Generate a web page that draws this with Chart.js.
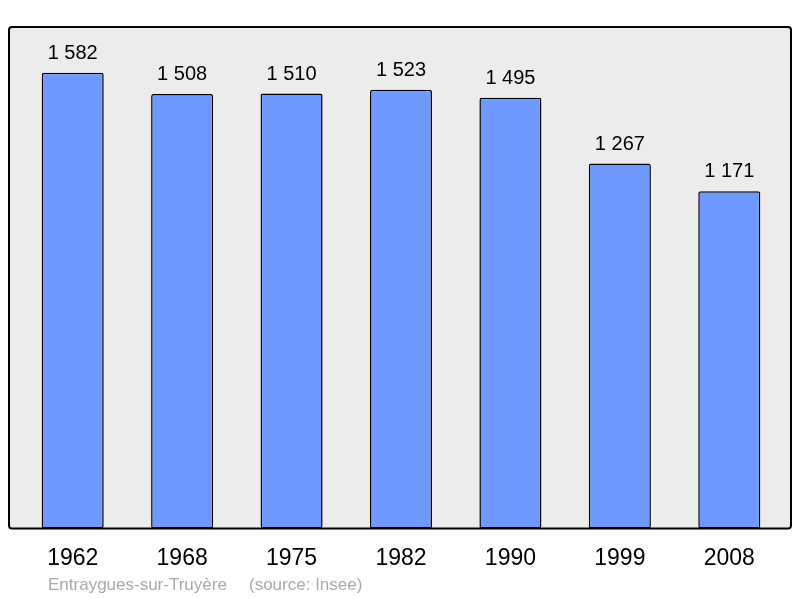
<!DOCTYPE html>
<html>
<head>
<meta charset="utf-8">
<script src="https://cdn.jsdelivr.net/npm/chart.js@4"></script>
<style>
  html, body { margin: 0; padding: 0; background: #fff; }
  #wrap { width: 800px; height: 598px; }
</style>
</head>
<body>
<div id="wrap"><canvas id="myChart"></canvas></div>
<script>
const years = ['1962', '1968', '1975', '1982', '1990', '1999', '2008'];
const population = [1582, 1508, 1510, 1523, 1495, 1267, 1171];
const townName = 'Entraygues-sur-Truyère';
const sourceText = '(source: Insee)';

const fontFamily = '"Liberation Sans", Arial, sans-serif';

function fmt(n) {
  return String(n).replace(/\B(?=(\d{3})+(?!\d))/g, ' ');
}

// grey box behind the bars, value labels and footer
const frame = {
  id: 'frame',
  beforeDraw(chart) {
    const { ctx, chartArea: a } = chart;
    const x = a.left - 9, y = a.top, w = a.right - a.left + 16, h = a.bottom - a.top;
    ctx.save();
    ctx.fillStyle = '#ececec';
    ctx.strokeStyle = '#000';
    ctx.lineWidth = 2;
    ctx.beginPath();
    ctx.roundRect(x, y, w, h, 3);
    ctx.fill();
    ctx.stroke();
    ctx.restore();
  },
  afterDatasetsDraw(chart) {
    const { ctx } = chart;
    const meta = chart.getDatasetMeta(0);
    ctx.save();
    ctx.fillStyle = '#000';
    ctx.font = '20px ' + fontFamily;
    ctx.textAlign = 'center';
    ctx.textBaseline = 'alphabetic';
    meta.data.forEach((bar, i) => {
      ctx.fillText(fmt(population[i]), bar.x, bar.y - 14);
    });
    ctx.fillStyle = '#aaaaaa';
    ctx.font = '17px ' + fontFamily;
    ctx.textAlign = 'left';
    ctx.fillText(townName, 48, 590);
    ctx.fillText(sourceText, 249, 590);
    ctx.restore();
  }
};

new Chart(document.getElementById('myChart'), {
  type: 'bar',
  data: {
    labels: years,
    datasets: [{
      data: population,
      backgroundColor: '#7099ff',
      borderColor: '#000',
      borderWidth: 1.5,
      borderSkipped: false,
      borderRadius: 2,
      barPercentage: 0.567,
      categoryPercentage: 1
    }]
  },
  options: {
    responsive: true,
    maintainAspectRatio: false,
    animation: false,
    layout: { padding: { left: 18, right: 16, top: 27, bottom: 18 } },
    plugins: { legend: { display: false }, tooltip: { enabled: false } },
    scales: {
      x: {
        grid: { display: false },
        border: { display: false },
        ticks: { color: '#000', font: { family: fontFamily, size: 23 }, padding: 8 }
      },
      y: {
        display: false,
        min: 0,
        max: 1741
      }
    }
  },
  plugins: [frame]
});
</script>
</body>
</html>
